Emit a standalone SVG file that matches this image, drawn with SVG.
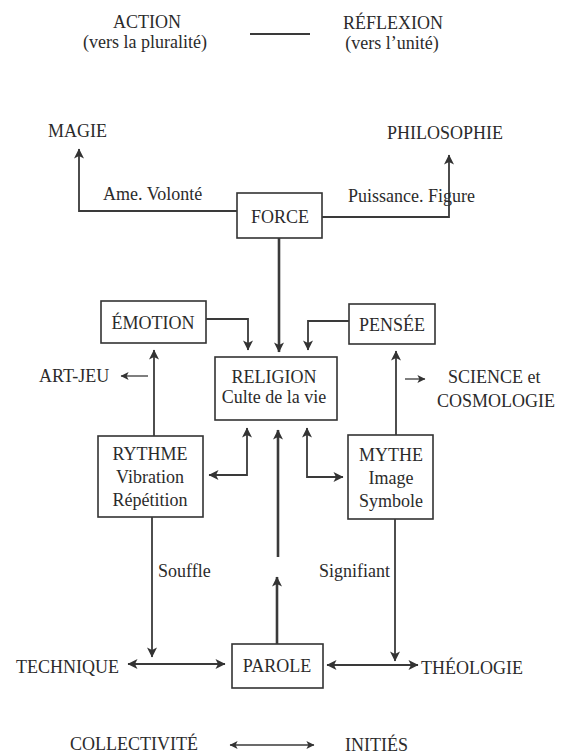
<svg xmlns="http://www.w3.org/2000/svg" width="561" height="756" viewBox="0 0 561 756">
<defs>
<style>
text{font-family:"Liberation Serif","Times New Roman",serif;font-size:18px;fill:#2b2b2b}
.m{text-anchor:middle}
.box{fill:none;stroke:#333;stroke-width:1.6}
.c{fill:none;stroke:#3a3a3a;stroke-width:1.8}
.t{stroke-width:2.6}
.s{stroke-width:1.3}
</style>
<marker id="ah" viewBox="0 0 10 10" refX="9.5" refY="5" markerWidth="11" markerHeight="10" markerUnits="userSpaceOnUse" orient="auto-start-reverse">
<path d="M0,0 L10,5 L0,10 L2.5,5 z" fill="#333"/>
</marker>
<marker id="ahs" viewBox="0 0 10 10" refX="9.5" refY="5" markerWidth="9" markerHeight="8" markerUnits="userSpaceOnUse" orient="auto-start-reverse">
<path d="M0,0 L10,5 L0,10 L2.5,5 z" fill="#333"/>
</marker>
</defs>
<rect width="561" height="756" fill="#fff"/>

<g id="legend">
<text class="m" x="147" y="28">ACTION</text>
<text class="m" x="145" y="48">(vers la pluralité)</text>
<text class="m" x="393" y="29">RÉFLEXION</text>
<text class="m" x="392" y="49">(vers l’unité)</text>
<line class="c" x1="250" y1="34" x2="310" y2="34"/>
</g>

<g id="magie"><text x="48" y="137">MAGIE</text></g>
<g id="philosophie"><text x="387" y="139">PHILOSOPHIE</text></g>
<g id="force"><rect class="box" x="237" y="193" width="85" height="45"/><text class="m" x="280" y="223">FORCE</text></g>
<g id="emotion"><rect class="box" x="101" y="301" width="105" height="42"/><text class="m" x="153" y="329">ÉMOTION</text></g>
<g id="pensee"><rect class="box" x="349" y="304" width="86" height="40"/><text class="m" x="392" y="331">PENSÉE</text></g>
<g id="religion"><rect class="box" x="215" y="357" width="122" height="63"/><text class="m" x="274" y="383">RELIGION</text><text class="m" x="274" y="403">Culte de la vie</text></g>
<g id="artjeu"><text x="39" y="382">ART-JEU</text></g>
<g id="science"><text x="448" y="383">SCIENCE et</text><text x="437" y="407">COSMOLOGIE</text></g>
<g id="rythme"><rect class="box" x="98" y="436" width="105" height="81"/><text class="m" x="150" y="460">RYTHME</text><text class="m" x="150" y="483">Vibration</text><text class="m" x="150" y="506">Répétition</text></g>
<g id="mythe"><rect class="box" x="348" y="435" width="85" height="84"/><text class="m" x="391" y="461">MYTHE</text><text class="m" x="391" y="484">Image</text><text class="m" x="391" y="507">Symbole</text></g>
<g id="technique"><text x="16" y="673">TECHNIQUE</text></g>
<g id="parole"><rect class="box" x="232" y="644" width="91" height="44"/><text class="m" x="277" y="672">PAROLE</text></g>
<g id="theologie"><text x="421" y="674">THÉOLOGIE</text></g>
<g id="collectivite"><text x="70" y="750">COLLECTIVITÉ</text></g>
<g id="inities"><text x="345" y="751">INITIÉS</text></g>

<g id="connectors">
<path class="c" d="M237,211 H79 V149" marker-end="url(#ah)"/>
<text x="103" y="200">Ame. Volonté</text>
<path class="c" d="M322,217 H449 V155" marker-end="url(#ah)"/>
<text x="348" y="202">Puissance. Figure</text>
<path class="c t" d="M279,238 V352" marker-end="url(#ah)"/>
<path class="c" d="M206,319 H248 V350" marker-end="url(#ah)"/>
<path class="c" d="M349,321 H308 V350" marker-end="url(#ah)"/>
<path class="c" d="M154,436 V350" marker-end="url(#ah)"/>
<path class="c s" d="M148,376 H121" marker-end="url(#ahs)"/>
<path class="c" d="M396,435 V351" marker-end="url(#ah)"/>
<path class="c s" d="M405,379 H425" marker-end="url(#ahs)"/>
<path class="c" d="M209,475 H247 V428" marker-start="url(#ah)" marker-end="url(#ah)"/>
<path class="c" d="M307,428 V477 H343" marker-start="url(#ah)" marker-end="url(#ah)"/>
<path class="c t" d="M278,557 V430" marker-end="url(#ah)"/>
<path class="c t" d="M277,644 V577" marker-end="url(#ah)"/>
<path class="c" d="M152,517 V657" marker-end="url(#ah)"/>
<text x="158" y="577">Souffle</text>
<path class="c" d="M395,519 V661" marker-end="url(#ah)"/>
<text x="319" y="577">Signifiant</text>
<path class="c" d="M128,664 H225" marker-start="url(#ah)" marker-end="url(#ah)"/>
<path class="c" d="M327,665 H418" marker-start="url(#ah)" marker-end="url(#ah)"/>
<path class="c s" d="M230,745 H314" marker-start="url(#ahs)" marker-end="url(#ahs)"/>
</g>
</svg>
